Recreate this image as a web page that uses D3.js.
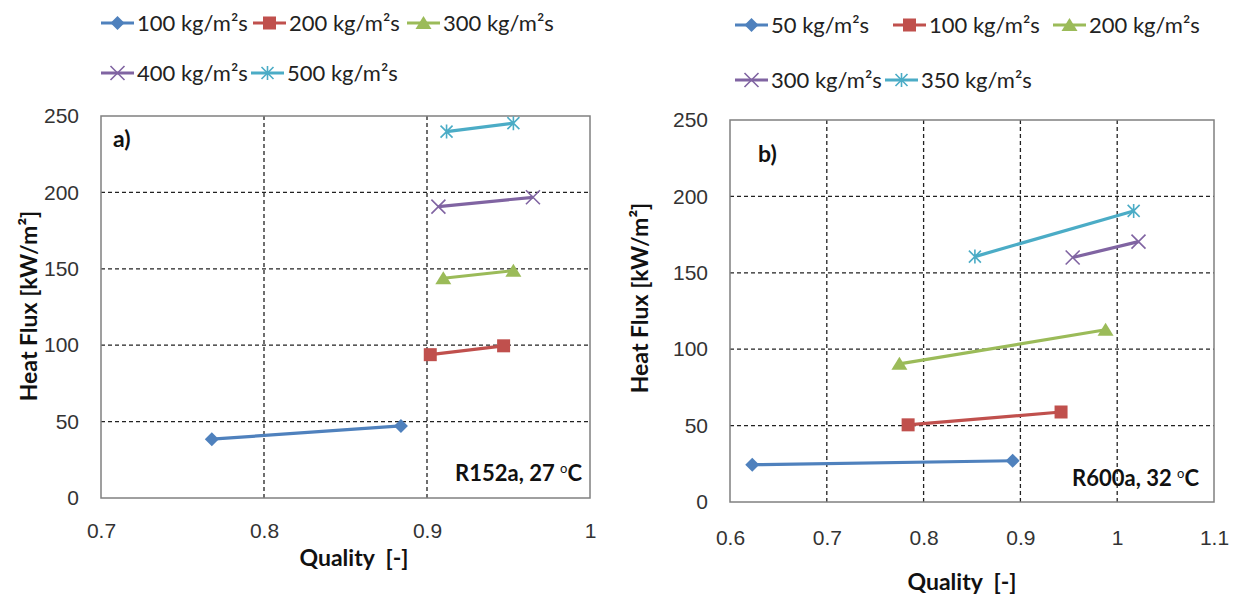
<!DOCTYPE html>
<html>
<head>
<meta charset="utf-8">
<script src="https://cdn.jsdelivr.net/npm/d3@7"></script>
<style>
  body { margin: 0; background: #fff; }
  svg { font-family: Lato, "Open Sans", sans-serif; }
  .tick text { font-size: 21px; fill: #333; }
  .grid line { stroke: #222; stroke-dasharray: 4 3; stroke-width: 1.3; }
  .title { font-weight: bold; font-size: 23px; fill: #111; }
  .legend text { font-size: 22px; fill: #222; }
</style>
</head>
<body>
<svg id="chart" width="1240" height="599"></svg>
<script>
// panel a) R152a
const seriesA = ['100 kg/m²s', '200 kg/m²s', '300 kg/m²s', '400 kg/m²s', '500 kg/m²s'];
const qualityA = [
  [0.768, 0.884],
  [0.902, 0.947],
  [0.910, 0.953],
  [0.907, 0.965],
  [0.912, 0.953]
];
const fluxA = [
  [38.5, 47.2],
  [93.8, 99.6],
  [143.8, 148.8],
  [190.7, 196.8],
  [239.8, 245.3]
];
const xTicksA = [0.7, 0.8, 0.9, 1];

// panel b) R600a
const seriesB = ['50 kg/m²s', '100 kg/m²s', '200 kg/m²s', '300 kg/m²s', '350 kg/m²s'];
const qualityB = [
  [0.623, 0.892],
  [0.784, 0.942],
  [0.775, 0.988],
  [0.954, 1.022],
  [0.853, 1.017]
];
const fluxB = [
  [24.4, 27.0],
  [50.5, 58.9],
  [90.4, 112.7],
  [160.0, 170.4],
  [160.6, 190.5]
];
const xTicksB = [0.6, 0.7, 0.8, 0.9, 1, 1.1];

const yTicks = [0, 50, 100, 150, 200, 250];
const colors = ['#4F81BD', '#C0504D', '#9BBB59', '#8064A2', '#4BACC6'];
const markers = ['diamond', 'square', 'triangle', 'x', 'star'];

const svg = d3.select('#chart');

function marker(g, type, color) {
  if (type === 'diamond') {
    g.append('path').attr('d', 'M0,-7L7,0L0,7L-7,0Z').attr('fill', color);
  } else if (type === 'square') {
    g.append('rect').attr('x', -6.5).attr('y', -6.5).attr('width', 13).attr('height', 13).attr('fill', color);
  } else if (type === 'triangle') {
    g.append('path').attr('d', 'M0,-7L8,6L-8,6Z').attr('fill', color);
  } else if (type === 'x') {
    g.append('path').attr('d', 'M-7,-7L7,7M-7,7L7,-7')
      .attr('stroke', color).attr('stroke-width', 1.6).attr('fill', 'none');
  } else {
    g.append('path').attr('d', 'M-6,-6L6,6M-6,6L6,-6M0,-7L0,7')
      .attr('stroke', color).attr('stroke-width', 1.6).attr('fill', 'none');
  }
}

function drawPanel(cfg) {
  const x = d3.scaleLinear().domain(cfg.xDomain).range([cfg.left, cfg.right]);
  const y = d3.scaleLinear().domain([0, 250]).range([cfg.bottom, cfg.top]);
  const g = svg.append('g');

  // grid
  g.append('g').attr('class', 'grid')
    .selectAll('line').data(yTicks.slice(1, -1)).join('line')
    .attr('x1', cfg.left).attr('x2', cfg.right)
    .attr('y1', d => y(d)).attr('y2', d => y(d));
  g.append('g').attr('class', 'grid')
    .selectAll('line').data(cfg.xTicks.slice(1, -1)).join('line')
    .attr('y1', cfg.top).attr('y2', cfg.bottom)
    .attr('x1', d => x(d)).attr('x2', d => x(d));

  // frame
  g.append('rect')
    .attr('x', cfg.left).attr('y', cfg.top)
    .attr('width', cfg.right - cfg.left).attr('height', cfg.bottom - cfg.top)
    .attr('fill', 'none').attr('stroke', '#808080').attr('stroke-width', 1.5);

  // axes (labels only)
  const xAxis = g.append('g').attr('transform', `translate(0,${cfg.bottom})`)
    .call(d3.axisBottom(x).tickValues(cfg.xTicks).tickSize(0).tickPadding(cfg.xPad).tickFormat(d3.format('')));
  const yAxis = g.append('g').attr('transform', `translate(${cfg.left},0)`)
    .call(d3.axisLeft(y).tickValues(yTicks).tickSize(0).tickPadding(22));
  xAxis.select('.domain').remove();
  yAxis.select('.domain').remove();

  // series
  const line = d3.line();
  cfg.names.forEach((name, i) => {
    const pts = cfg.qx[i].map((q, j) => [x(q), y(cfg.fy[i][j])]);
    g.append('path').attr('d', line(pts))
      .attr('fill', 'none').attr('stroke', colors[i]).attr('stroke-width', 3.2);
    pts.forEach(p => {
      marker(g.append('g').attr('transform', `translate(${p[0]},${p[1]})`), markers[i], colors[i]);
    });
  });

  // titles
  g.append('text').attr('class', 'title')
    .attr('transform', `translate(${cfg.yTitleX},${cfg.yTitleY}) rotate(-90)`)
    .attr('text-anchor', 'middle')
    .text('Heat Flux [kW/m²]');
  g.append('text').attr('class', 'title')
    .attr('x', cfg.xTitleX).attr('y', cfg.xTitleY)
    .attr('text-anchor', 'middle')
    .text('Quality\u00a0 [-]');
  g.append('text').attr('class', 'title')
    .attr('x', cfg.tagX).attr('y', cfg.tagY).text(cfg.tag);
  const note = g.append('text').attr('class', 'title')
    .attr('x', cfg.noteX).attr('y', cfg.noteY).attr('text-anchor', 'end')
    .style('font-size', '22px');
  note.append('tspan').text(cfg.note + ' ');
  note.append('tspan').text('o').attr('dy', -8).style('font-size', '13px').style('font-weight', 'normal');
  note.append('tspan').text('C').attr('dy', 8);

  // legend
  const lg = g.append('g').attr('class', 'legend');
  cfg.names.forEach((name, i) => {
    const [lx, ly] = cfg.legendPos[i];
    const item = lg.append('g').attr('transform', `translate(${lx},${ly})`);
    item.append('line').attr('x1', 0).attr('x2', 33).attr('y1', 0).attr('y2', 0)
      .attr('stroke', colors[i]).attr('stroke-width', 3);
    marker(item.append('g').attr('transform', 'translate(16.5,0)'), markers[i], colors[i]);
    item.append('text').attr('x', 36).attr('y', 0).attr('dy', '0.35em').text(name);
  });
}

drawPanel({
  left: 101, right: 590, top: 116, bottom: 498,
  xDomain: [0.7, 1], xTicks: xTicksA, xPad: 25,
  names: seriesA, qx: qualityA, fy: fluxA,
  yTitleX: 37, yTitleY: 306,
  xTitleX: 354, xTitleY: 566,
  tag: 'a)', tagX: 113, tagY: 147,
  note: 'R152a, 27', noteX: 582, noteY: 481,
  legendPos: [[101, 23], [253, 23], [407, 23], [101, 73], [251, 73]]
});

drawPanel({
  left: 730, right: 1214, top: 120, bottom: 502,
  xDomain: [0.6, 1.1], xTicks: xTicksB, xPad: 28,
  names: seriesB, qx: qualityB, fy: fluxB,
  yTitleX: 648, yTitleY: 298,
  xTitleX: 962, xTitleY: 590,
  tag: 'b)', tagX: 758, tagY: 162,
  note: 'R600a, 32', noteX: 1199, noteY: 486,
  legendPos: [[735, 25], [893, 25], [1053, 25], [735, 80], [885, 80]]
});
</script>
</body>
</html>
